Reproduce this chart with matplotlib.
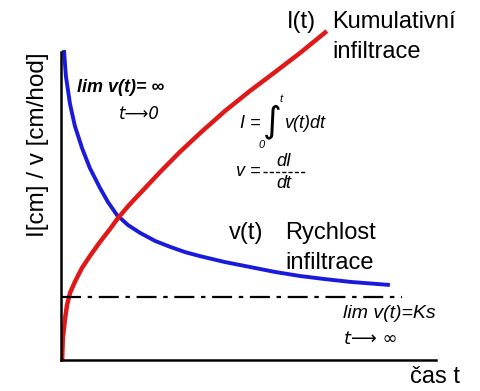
import matplotlib
matplotlib.use("Agg")
import matplotlib.pyplot as plt
from matplotlib.lines import Line2D

plt.rcParams['font.family'] = ['Liberation Sans', 'DejaVu Sans']

# rychlost infiltrace v(t)
t_v = [0.08, 0.13, 0.24, 0.37, 0.56, 0.77, 1.04, 1.25, 1.49, 1.79, 2.11, 2.51,
       2.91, 3.31, 3.71, 4.37, 5.04, 5.71, 6.37, 7.04, 7.71, 8.77]
v_vals = [10.0, 9.16, 8.26, 7.55, 6.84, 6.19, 5.55, 5.10, 4.68, 4.35, 4.10, 3.84,
          3.65, 3.48, 3.35, 3.16, 3.0, 2.84, 2.71, 2.61, 2.52, 2.42]

# kumulativni infiltrace I(t)
t_i = [0.03, 0.04, 0.05, 0.08, 0.11, 0.16, 0.24, 0.37, 0.56, 0.77, 1.04, 1.31,
       1.52, 1.84, 2.19, 2.64, 3.17, 3.71, 4.37, 5.04, 5.71, 6.37, 7.09]
i_vals = [0.0, 0.39, 0.71, 1.03, 1.35, 1.77, 2.16, 2.52, 2.97, 3.35, 3.81, 4.23,
          4.58, 5.03, 5.48, 6.06, 6.71, 7.32, 8.03, 8.68, 9.29, 9.90, 10.61]

ks = 2.03
ks_end = 9.1

W, H = 481, 391
fig = plt.figure(figsize=(W / 100, H / 100), dpi=100)
ax = fig.add_axes([61 / W, (H - 360) / H, 375 / W, 340 / H])
ax.set_xlim(0, 10)
ax.set_ylim(0, 340 / 31)

ax.plot(t_v, v_vals, color="#1a1adc", lw=2.8, solid_capstyle="butt",
        solid_joinstyle="round")
ax.plot(t_i, i_vals, color="#e01818", lw=3.2, solid_capstyle="butt",
        solid_joinstyle="round")
ax.plot([0, ks_end], [ks, ks], color="black", lw=1.6, linestyle=(0, (9, 3, 2, 3)))

for s in ["top", "right"]:
    ax.spines[s].set_visible(False)
ax.spines["left"].set_bounds(0, 9.95)
ax.spines["left"].set_linewidth(1.8)
ax.spines["bottom"].set_linewidth(1.8)
ax.set_xticks([])
ax.set_yticks([])


def ft(x, y, s, **kw):
    kw.setdefault("ha", "left")
    kw.setdefault("va", "center")
    fig.text(x / W, 1 - y / H, s, **kw)


ft(38, 145, "I[cm] / v [cm/hod]", rotation=90, ha="center", fontsize=17.5)
ft(410, 377, "čas t", fontsize=17)

ft(287, 22, "I(t)", fontsize=17)
ft(332, 22, "Kumulativní", fontsize=17)
ft(332, 52, "infiltrace", fontsize=17)

ft(229, 233, "v(t)", fontsize=17)
ft(285, 233, "Rychlost", fontsize=17)
ft(285, 263, "infiltrace", fontsize=17)

ft(77, 88, "lim v(t)= ∞", fontsize=13, style="italic", weight="bold")
ft(119, 114, "t⟶0", fontsize=12, style="italic", family=["DejaVu Sans"])

# I = integral v(t)dt
ft(240, 123, "I =", fontsize=13, style="italic")
ft(263, 122, "∫", fontsize=26, family=["DejaVu Sans"])
ft(280, 99, "t", fontsize=8, style="italic")
ft(259, 145, "0", fontsize=8, style="italic")
ft(284, 123, "v(t)dt", fontsize=13, style="italic")

# v = dI/dt
ft(236, 172, "v =", fontsize=13, style="italic")
ft(284, 161, "dI", fontsize=13, style="italic", ha="center")
ft(284, 184, "dt", fontsize=13, style="italic", ha="center")
fig.add_artist(Line2D([263 / W, 305 / W], [1 - 172 / H, 1 - 172 / H],
                      color="black", lw=1, linestyle=(0, (3, 1.5))))

ft(343, 313, "lim v(t)=Ks", fontsize=14, style="italic")
ft(344, 339, "t⟶ ∞", fontsize=13, style="italic", family=["DejaVu Sans"])

fig.savefig("out.png", dpi=100)
